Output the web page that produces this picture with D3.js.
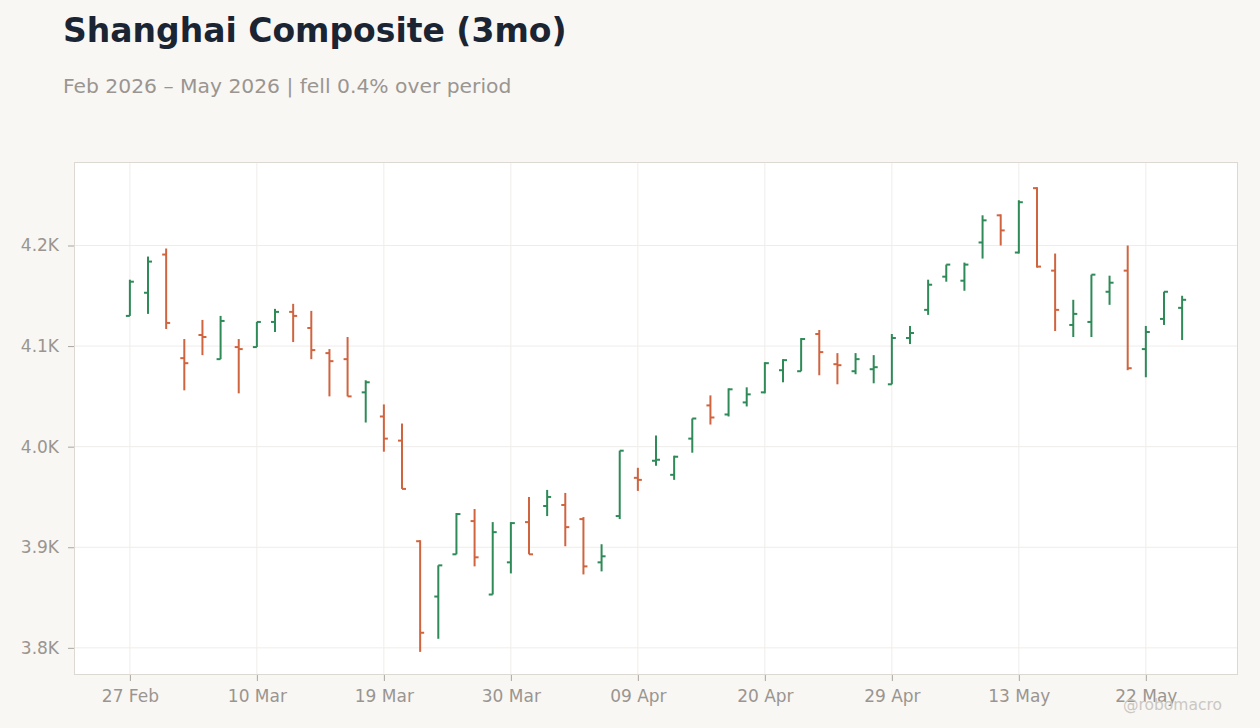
<!DOCTYPE html>
<html>
<head>
<meta charset="utf-8">
<script src="https://cdn.jsdelivr.net/npm/d3@7"></script>
<style>
    body { margin: 0; background: #f8f7f4; }
    svg { display: block; font-family: "DejaVu Sans", sans-serif; }
</style>
</head>
<body>
<svg id="Target" width="1260" height="728"></svg>
<script>
const dates = [
    "2026-02-27", "2026-03-02", "2026-03-03", "2026-03-04", "2026-03-05", "2026-03-06", "2026-03-09",
    "2026-03-10", "2026-03-11", "2026-03-12", "2026-03-13", "2026-03-16", "2026-03-17", "2026-03-18",
    "2026-03-19", "2026-03-20", "2026-03-23", "2026-03-24", "2026-03-25", "2026-03-26", "2026-03-27",
    "2026-03-30", "2026-03-31", "2026-04-01", "2026-04-02", "2026-04-03", "2026-04-07", "2026-04-08",
    "2026-04-09", "2026-04-10", "2026-04-13", "2026-04-14", "2026-04-15", "2026-04-16", "2026-04-17",
    "2026-04-20", "2026-04-21", "2026-04-22", "2026-04-23", "2026-04-24", "2026-04-27", "2026-04-28",
    "2026-04-29", "2026-04-30", "2026-05-06", "2026-05-07", "2026-05-08", "2026-05-11", "2026-05-12",
    "2026-05-13", "2026-05-14", "2026-05-15", "2026-05-18", "2026-05-19", "2026-05-20", "2026-05-21",
    "2026-05-22", "2026-05-25", "2026-05-26"
];

const opens = [
    4130, 4153, 4191, 4088, 4111, 4087, 4099, 4099, 4124, 4134, 4118, 4093, 4087, 4054, 4030,
    4006, 3906, 3851, 3893, 3926, 3853, 3885, 3925, 3941, 3942, 3928, 3885, 3931, 3969, 3986,
    3972, 4008, 4041, 4032, 4044, 4054, 4076, 4075, 4112, 4082, 4075, 4077, 4062, 4108, 4136,
    4169, 4165, 4203, 4230, 4193, 4257, 4175, 4121, 4124, 4154, 4175, 4097, 4127, 4138
];
const highs = [
    4166, 4189, 4197, 4107, 4126, 4130, 4107, 4124, 4137, 4142, 4135, 4097, 4109, 4066, 4042,
    4023, 3907, 3882, 3934, 3938, 3925, 3925, 3950, 3957, 3954, 3930, 3903, 3996, 3979, 4011,
    3991, 4028, 4051, 4058, 4059, 4084, 4087, 4108, 4116, 4093, 4093, 4091, 4112, 4120, 4166,
    4181, 4183, 4230, 4231, 4245, 4258, 4192, 4146, 4171, 4170, 4200, 4120, 4154, 4150
];
const lows = [
    4130, 4132, 4117, 4056, 4091, 4087, 4053, 4099, 4114, 4104, 4087, 4050, 4050, 4024, 3995,
    3958, 3796, 3809, 3893, 3881, 3853, 3874, 3893, 3931, 3901, 3873, 3876, 3928, 3956, 3981,
    3967, 3994, 4022, 4030, 4040, 4053, 4064, 4075, 4071, 4062, 4072, 4063, 4062, 4102, 4131,
    4164, 4155, 4187, 4200, 4192, 4178, 4115, 4109, 4109, 4141, 4076, 4069, 4121, 4106
];
const closes = [
    4164, 4184, 4123, 4083, 4109, 4125, 4097, 4124, 4134, 4130, 4096, 4085, 4050, 4064, 4008,
    3958, 3815, 3882, 3933, 3890, 3915, 3924, 3893, 3950, 3920, 3881, 3891, 3996, 3967, 3987,
    3990, 4028, 4029, 4057, 4052, 4083, 4086, 4107, 4094, 4081, 4087, 4079, 4108, 4113, 4161,
    4181, 4181, 4225, 4215, 4243, 4179, 4136, 4132, 4171, 4163, 4078, 4114, 4154, 4146
];

const yDomain = [3773, 4283];
const yTicks = [3800, 3900, 4000, 4100, 4200];

const width = 1260, height = 728;
const margin = { top: 162, right: 22, bottom: 53, left: 74 };
const upColor = "#2e8a57", downColor = "#d0643f";

const bars = dates.map((d, i) => ({
    date: d3.timeParse("%Y-%m-%d")(d),
    index: i,
    open: opens[i],
    high: highs[i],
    low: lows[i],
    close: closes[i]
}));

const svg = d3.select("#Target");

const x = d3.scalePoint()
    .domain(bars.map(b => b.index))
    .range([margin.left, width - margin.right])
    .padding(3.08);

const y = d3.scaleLinear()
    .domain(yDomain)
    .range([height - margin.bottom, margin.top]);

const tickIdx = bars.map(b => b.index).filter(i => i % 7 === 0);
const fmtDate = d3.timeFormat("%d %b");

// header
svg.append("text")
    .attr("x", 63).attr("y", 42)
    .attr("font-size", 33).attr("font-weight", "bold")
    .attr("fill", "#1b2433")
    .text("Shanghai Composite (3mo)");

svg.append("text")
    .attr("x", 63).attr("y", 93)
    .attr("font-size", 20.3)
    .attr("fill", "#9a9590")
    .text("Feb 2026 \u2013 May 2026 | fell 0.4% over period");

// plot background
svg.append("rect")
    .attr("x", margin.left).attr("y", margin.top)
    .attr("width", width - margin.left - margin.right)
    .attr("height", height - margin.top - margin.bottom)
    .attr("fill", "#ffffff");

// grid
const grid = svg.append("g").attr("stroke", "#efedea").attr("stroke-width", 1);
grid.selectAll("line.h").data(yTicks).enter().append("line")
    .attr("x1", margin.left).attr("x2", width - margin.right)
    .attr("y1", d => y(d)).attr("y2", d => y(d));
grid.selectAll("line.v").data(tickIdx).enter().append("line")
    .attr("x1", d => x(d)).attr("x2", d => x(d))
    .attr("y1", margin.top).attr("y2", height - margin.bottom);

// frame
svg.append("rect")
    .attr("x", margin.left + 0.5).attr("y", margin.top + 0.5)
    .attr("width", width - margin.left - margin.right - 1)
    .attr("height", height - margin.top - margin.bottom - 1)
    .attr("fill", "none")
    .attr("stroke", "#ddd8d1");

// axes
const yAxis = svg.append("g")
    .attr("transform", `translate(${margin.left},0)`)
    .call(d3.axisLeft(y).tickValues(yTicks).tickSize(6).tickPadding(9)
        .tickFormat(d => (d / 1000).toFixed(1) + "K"));

const xAxis = svg.append("g")
    .attr("transform", `translate(0,${height - margin.bottom})`)
    .call(d3.axisBottom(x).tickValues(tickIdx).tickSize(6).tickPadding(9)
        .tickFormat(i => fmtDate(bars[i].date)));

[yAxis, xAxis].forEach(ax => {
    ax.select(".domain").remove();
    ax.selectAll(".tick line").attr("stroke", "#aaa59f");
    ax.selectAll(".tick text")
        .attr("font-size", 17)
        .attr("font-family", "DejaVu Sans, sans-serif")
        .attr("fill", "#9a9590");
});

// OHLC bars
const color = d => d.close >= d.open ? upColor : downColor;
const barG = svg.append("g")
    .selectAll("g.bar")
    .data(bars)
    .enter()
    .append("g")
    .attr("stroke", color)
    .attr("stroke-width", 2);

barG.append("line")
    .attr("x1", d => x(d.index)).attr("x2", d => x(d.index))
    .attr("y1", d => y(d.high)).attr("y2", d => y(d.low));

barG.append("line")
    .attr("x1", d => x(d.index) - 4).attr("x2", d => x(d.index))
    .attr("y1", d => y(d.open)).attr("y2", d => y(d.open));

barG.append("line")
    .attr("x1", d => x(d.index)).attr("x2", d => x(d.index) + 4)
    .attr("y1", d => y(d.close)).attr("y2", d => y(d.close));

// watermark
svg.append("text")
    .attr("x", 1222).attr("y", 710)
    .attr("text-anchor", "end")
    .attr("font-size", 15.5)
    .attr("fill", "#cbc7c2")
    .text("@robomacro");
</script>
</body>
</html>
